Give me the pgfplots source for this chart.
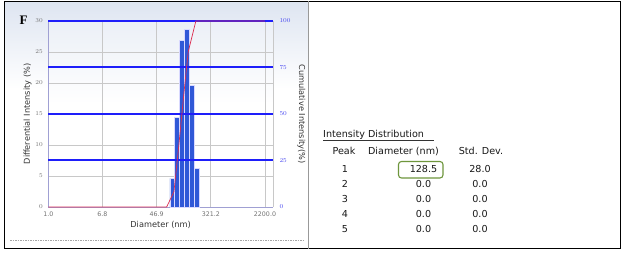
\documentclass[border=0pt]{standalone}
\usepackage{fontspec}
\setmainfont{DejaVu Sans}
\newfontfamily\serifb{Liberation Serif}
\usepackage{pgfplots}
\pgfplotsset{compat=1.18}
\definecolor{barblue}{RGB}{48,88,215}
\definecolor{lineblue}{RGB}{30,30,250}
\definecolor{tickblue}{RGB}{70,70,240}
\definecolor{cumred}{RGB}{220,45,80}
\definecolor{gridgray}{RGB}{200,200,200}
\definecolor{boxgreen}{RGB}{110,150,60}
\definecolor{panelblue}{RGB}{222,229,241}
\begin{document}
\begin{tikzpicture}
\useasboundingbox (0pt,0pt) rectangle (624pt,254pt);
\fill[white] (0pt,0pt) rectangle (624pt,254pt);
% left panel background
\shade[top color=panelblue, bottom color=white] (5pt,165pt) rectangle (308pt,252pt);
\draw[gray!70, dash pattern=on 1.5pt off 1pt, line width=0.6pt] (10pt,14pt) -- (305pt,14pt);
% axis background gradient
\shade[top color=panelblue!60, bottom color=white] (48.3pt,150pt) rectangle (273pt,233pt);
\begin{axis}[
  at={(48.3pt,47pt)}, anchor=south west,
  width=224.7pt, height=186pt, scale only axis,
  xmode=log, xmin=1, xmax=2924, ymin=0, ymax=30,
  axis y line*=left, axis x line*=bottom,
  xtick={1,6.8,46.9,321.2,2200},
  xticklabels={1.0,6.8,46.9,321.2,2200.0},
  minor xtick={}, 
  ytick={0,5,10,15,20,25,30},
  major tick length=0pt,
  log ticks with fixed point,
  xmajorgrids, ymajorgrids,
  grid style={gridgray, line width=0.8pt},
  axis line style={gridgray!80!blue, line width=0.6pt},
  tick label style={font=\fontsize{6.3}{7}\selectfont, text=gray!90!black},
  xticklabel style={yshift=-1.5pt},
  yticklabel style={xshift=-2pt},
  xlabel={Diameter (nm)},
  ylabel={Differential Intensity (\%)},
  label style={font=\fontsize{8.2}{9}\selectfont, text=black!80},
  xlabel style={yshift=2pt},
  ylabel style={yshift=-3pt},
  clip=false,
]
\addplot[ybar interval, fill=barblue, draw=white!85!blue, line width=0.5pt]
  coordinates {(75.2,4.6) (89.2,14.4) (105.9,26.9) (125.9,28.6) (149.4,19.6) (177.4,6.2) (210.7,0)};
\end{axis}
\begin{axis}[
  at={(48.3pt,47pt)}, anchor=south west,
  width=224.7pt, height=186pt, scale only axis,
  xmode=log, xmin=1, xmax=2924, ymin=0, ymax=100,
  axis y line*=right, axis x line=none,
  ytick={0,25,50,75,100},
  major tick length=0pt,
  axis line style={gridgray, line width=0.6pt},
  tick label style={font=\fontsize{6.3}{7}\selectfont, text=tickblue},
  yticklabel style={xshift=3pt},
  ylabel={Cumulative Intensity(\%)},
  ylabel style={font=\fontsize{8.2}{9}\selectfont, text=black!80, rotate=180},
  clip=false,
]
\addplot[draw=lineblue, line width=2pt, forget plot] coordinates {(1,25) (2924,25)};
\addplot[draw=lineblue, line width=2pt, forget plot] coordinates {(1,50) (2924,50)};
\addplot[draw=lineblue, line width=2pt, forget plot] coordinates {(1,75) (2924,75)};
\addplot[draw=lineblue, line width=2pt, forget plot] coordinates {(1,100) (2924,100)};
\addplot[cumred, line width=0.7pt] coordinates {
 (1,0) (66.9,0) (86.7,8.2) (103.5,33.7) (125,62.9) (144,83.5) (189,100) (2200,100)};
\end{axis}
% F label
\node[font=\serifb\bfseries\fontsize{13}{14}\selectfont] at (23.5pt,234pt) {F};
% outer frame and divider
\draw[black, line width=1pt] (4.5pt,5pt) rectangle (620.5pt,252.5pt);
\draw[gray!80, line width=1.2pt] (308.5pt,5pt) -- (308.5pt,252.5pt);
% table
\begin{scope}[every node/.style={font=\fontsize{9.6}{10}\selectfont, inner sep=0pt, text=black!90}]
\node[anchor=base west] (t) at (323pt,116pt) {Intensity Distribution};
\draw[black!80, line width=0.5pt] (323pt,114pt) -- (434pt,114pt);
\node[anchor=base] at (344pt,99pt) {Peak};
\node[anchor=base] at (403.5pt,99pt) {Diameter (nm)};
\node[anchor=base] at (481pt,99pt) {Std. Dev.};
\foreach \r/\d/\s [count=\i from 0] in {1/128.5/28.0, 2/0.0/0.0, 3/0.0/0.0, 4/0.0/0.0, 5/0.0/0.0}{
  \node[anchor=base] at (345pt,{(81-15*\i)*1pt}) {\r};
  \node[anchor=base] at (423.5pt,{(81-15*\i)*1pt}) {\d};
  \node[anchor=base] at (480pt,{(81-15*\i)*1pt}) {\s};
}
\end{scope}
\draw[boxgreen, line width=1.1pt, rounded corners=3pt] (398.5pt,76pt) rectangle (443pt,92.5pt);
\end{tikzpicture}
\end{document}
